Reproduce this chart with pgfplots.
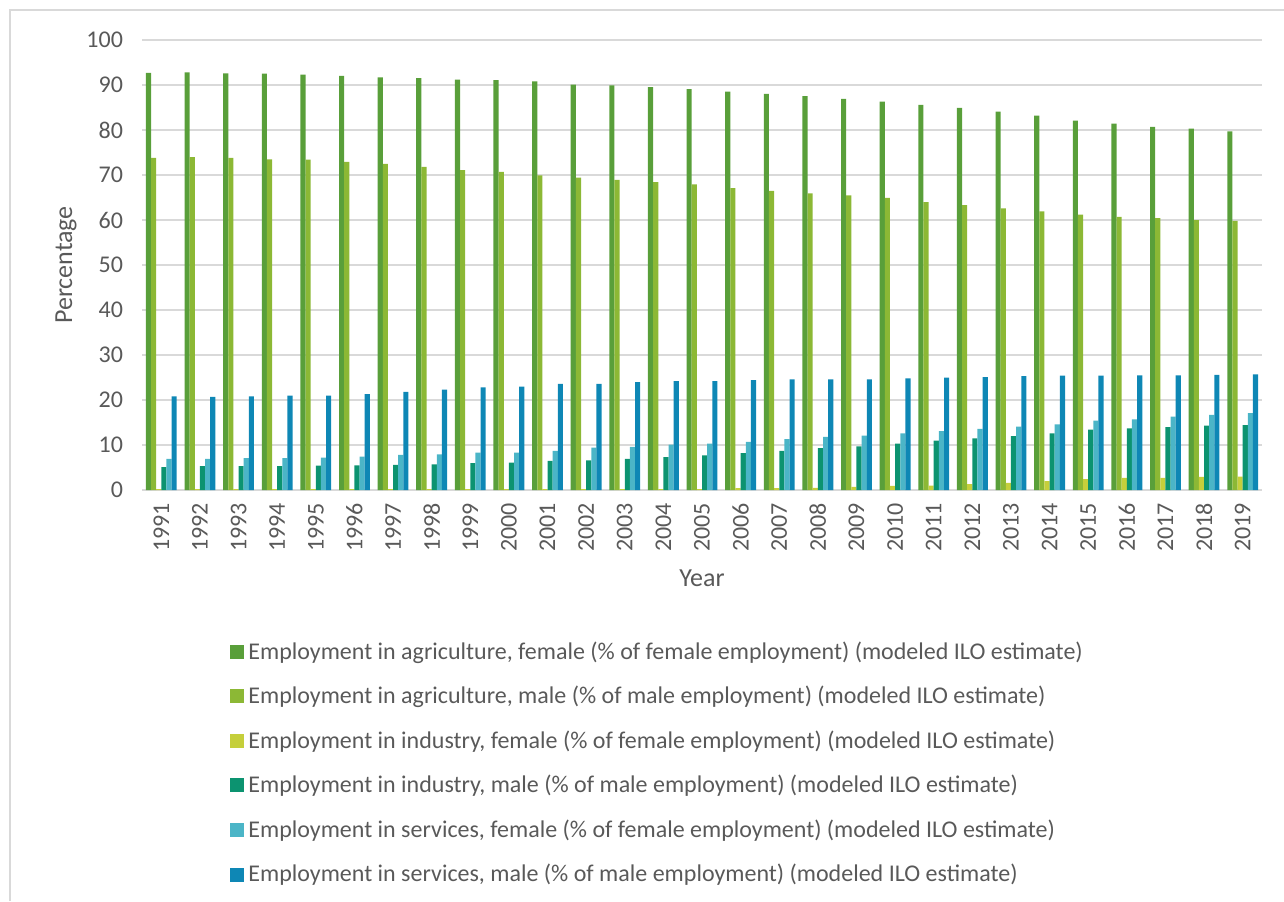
\documentclass[border=0pt]{standalone}
\usepackage{fontspec}
\setmainfont{Carlito}
\usepackage{pgfplots}
\usepackage{pgfplotstable}
\pgfplotsset{compat=1.18}
\definecolor{agF}{RGB}{89,159,58}
\definecolor{agM}{RGB}{140,184,53}
\definecolor{inF}{RGB}{197,207,59}
\definecolor{inM}{RGB}{12,147,112}
\definecolor{svF}{RGB}{75,181,199}
\definecolor{svM}{RGB}{14,135,181}
\definecolor{gridc}{RGB}{217,217,217}
\definecolor{txt}{RGB}{89,89,89}
\pgfplotstableread{
x year agF agM inF inM svF svM
0 1991 92.7 73.8 0.2 5.1 6.9 20.8
1 1992 92.8 74.0 0.2 5.3 6.9 20.7
2 1993 92.6 73.8 0.2 5.3 7.1 20.8
3 1994 92.5 73.5 0.2 5.3 7.1 21.0
4 1995 92.3 73.4 0.2 5.4 7.2 21.0
5 1996 92.0 72.9 0.2 5.5 7.4 21.3
6 1997 91.7 72.5 0.2 5.6 7.8 21.8
7 1998 91.5 71.8 0.2 5.7 7.9 22.3
8 1999 91.2 71.1 0.2 6.0 8.3 22.8
9 2000 91.1 70.7 0.2 6.1 8.3 23.0
10 2001 90.8 69.9 0.2 6.5 8.7 23.6
11 2002 90.1 69.4 0.2 6.6 9.4 23.6
12 2003 89.9 68.9 0.2 6.9 9.6 24.0
13 2004 89.5 68.4 0.2 7.3 10.1 24.2
14 2005 89.1 67.9 0.2 7.7 10.3 24.2
15 2006 88.5 67.1 0.4 8.2 10.7 24.4
16 2007 88.0 66.5 0.4 8.7 11.3 24.6
17 2008 87.5 65.9 0.5 9.3 11.8 24.6
18 2009 86.9 65.5 0.7 9.7 12.1 24.6
19 2010 86.3 64.9 0.9 10.3 12.6 24.8
20 2011 85.6 64.0 1.0 11.0 13.1 25.0
21 2012 84.9 63.3 1.3 11.5 13.6 25.1
22 2013 84.1 62.6 1.6 12.0 14.1 25.3
23 2014 83.2 61.9 2.0 12.6 14.6 25.4
24 2015 82.1 61.2 2.4 13.4 15.4 25.4
25 2016 81.4 60.7 2.7 13.7 15.7 25.5
26 2017 80.7 60.4 2.7 14.0 16.3 25.5
27 2018 80.3 60.0 2.9 14.3 16.7 25.6
28 2019 79.7 59.8 3.0 14.4 17.1 25.7
}\datatable
\begin{document}
\begin{tikzpicture}
\useasboundingbox (0,0) rectangle (642pt,450.5pt);
\draw[gridc, line width=0.6pt] (5pt,0) -- (5pt,445.5pt) -- (642pt,445.5pt);
\begin{axis}[
  at={(71pt,205.5pt)}, anchor=south west,
  scale only axis, width=560pt, height=225pt,
  ybar=0pt, bar width=0.133,
  xmin=-0.5, xmax=28.5, ymin=0, ymax=100,
  xtick=data,
  xticklabels={1991,1992,1993,1994,1995,1996,1997,1998,1999,2000,2001,2002,2003,2004,2005,2006,2007,2008,2009,2010,2011,2012,2013,2014,2015,2016,2017,2018,2019},
  ytick={0,10,...,100},
  ymajorgrids, grid style={gridc, line width=0.8pt},
  axis x line*=bottom, axis y line*=left,
  x axis line style={gridc, line width=0.8pt, -},
  y axis line style={draw=none},
  major tick length=0pt,
  /pgf/number format/assume math mode=true,
  tick label style={font=\fontsize{12}{14}\selectfont, text=txt},
  xticklabel style={rotate=90, anchor=east},
  xticklabel shift=3pt,
  yticklabel style={xshift=-6pt},
  xlabel={Year}, ylabel={Percentage},
  label style={font=\fontsize{13}{15}\selectfont, text=txt},
  xlabel style={yshift=-2pt},
  ylabel style={yshift=-2pt},
  legend style={at={(0.0732,-0.318)}, anchor=north west, draw=none, fill=none,
    font=\fontsize{12}{14}\selectfont, text=txt, row sep=8pt,
    /tikz/every even column/.append style={column sep=0pt}},
  legend cell align=left,
  legend image code/.code={\fill[#1] (0pt,-3.5pt) rectangle (7pt,3.5pt);},
]
\addplot[fill=agF, draw=none] table[x=x, y=agF] {\datatable};
\addplot[fill=agM, draw=none] table[x=x, y=agM] {\datatable};
\addplot[fill=inF, draw=none] table[x=x, y=inF] {\datatable};
\addplot[fill=inM, draw=none] table[x=x, y=inM] {\datatable};
\addplot[fill=svF, draw=none] table[x=x, y=svF] {\datatable};
\addplot[fill=svM, draw=none] table[x=x, y=svM] {\datatable};
\legend{Employment in agriculture{,} female (\% of female employment) (modeled ILO estimate),
Employment in agriculture{,} male (\% of male employment) (modeled ILO estimate),
Employment in industry{,} female (\% of female employment) (modeled ILO estimate),
Employment in industry{,} male (\% of male employment) (modeled ILO estimate),
Employment in services{,} female (\% of female employment) (modeled ILO estimate),
Employment in services{,} male (\% of male employment) (modeled ILO estimate)}
\end{axis}
\end{tikzpicture}
\end{document}
